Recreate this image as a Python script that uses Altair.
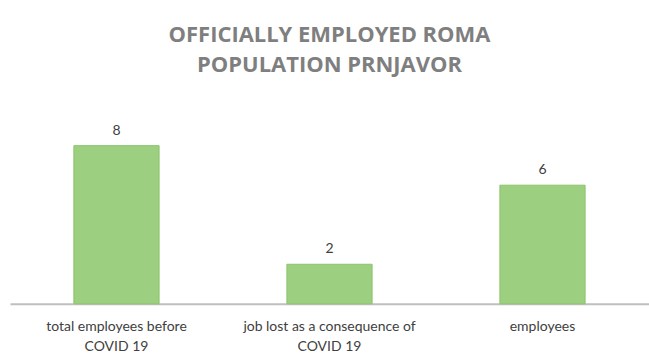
import altair as alt
import pandas as pd

categories = ["total employees before|COVID 19", "job lost as a consequence of|COVID 19", "employees"]
values = [8, 2, 6]

df = pd.DataFrame({"cat": categories, "val": values})

x = alt.X("cat:N", sort=categories, title=None,
          scale=alt.Scale(paddingInner=0.6, paddingOuter=0.3),
          axis=alt.Axis(labelExpr="split(datum.label, '|')", labelAngle=0,
                        labelFont="Lato", labelFontSize=14, labelColor="#404040",
                        labelLineHeight=20, labelPadding=16, ticks=False,
                        domainColor="#bfbfbf", domainWidth=2))
y = alt.Y("val:Q", scale=alt.Scale(domain=[0, 10]), axis=None)

bars = alt.Chart(df).mark_bar(color="#9ccf7f", stroke="#8cc46c", strokeWidth=1).encode(x=x, y=y)
text = alt.Chart(df).mark_text(baseline="bottom", dy=-8, font="Lato", fontSize=14, color="#404040").encode(
    x=alt.X("cat:N", sort=categories), y=y, text="val:Q")

chart = (bars + text).properties(
    width=640, height=198,
    padding={"left": 10, "top": 106, "right": 0, "bottom": 55},
    autosize=alt.AutoSizeParams(type="none"),
    title=alt.TitleParams(["OFFICIALLY EMPLOYED ROMA", "POPULATION PRNJAVOR"], anchor="middle",
                          font="Open Sans", fontSize=22, fontWeight="bold", color="#7f7f7f",
                          lineHeight=30, offset=29),
).configure_view(stroke=None).configure_title(limit=0)

chart.save("out.html", embed_options={"renderer": "svg", "actions": False})
